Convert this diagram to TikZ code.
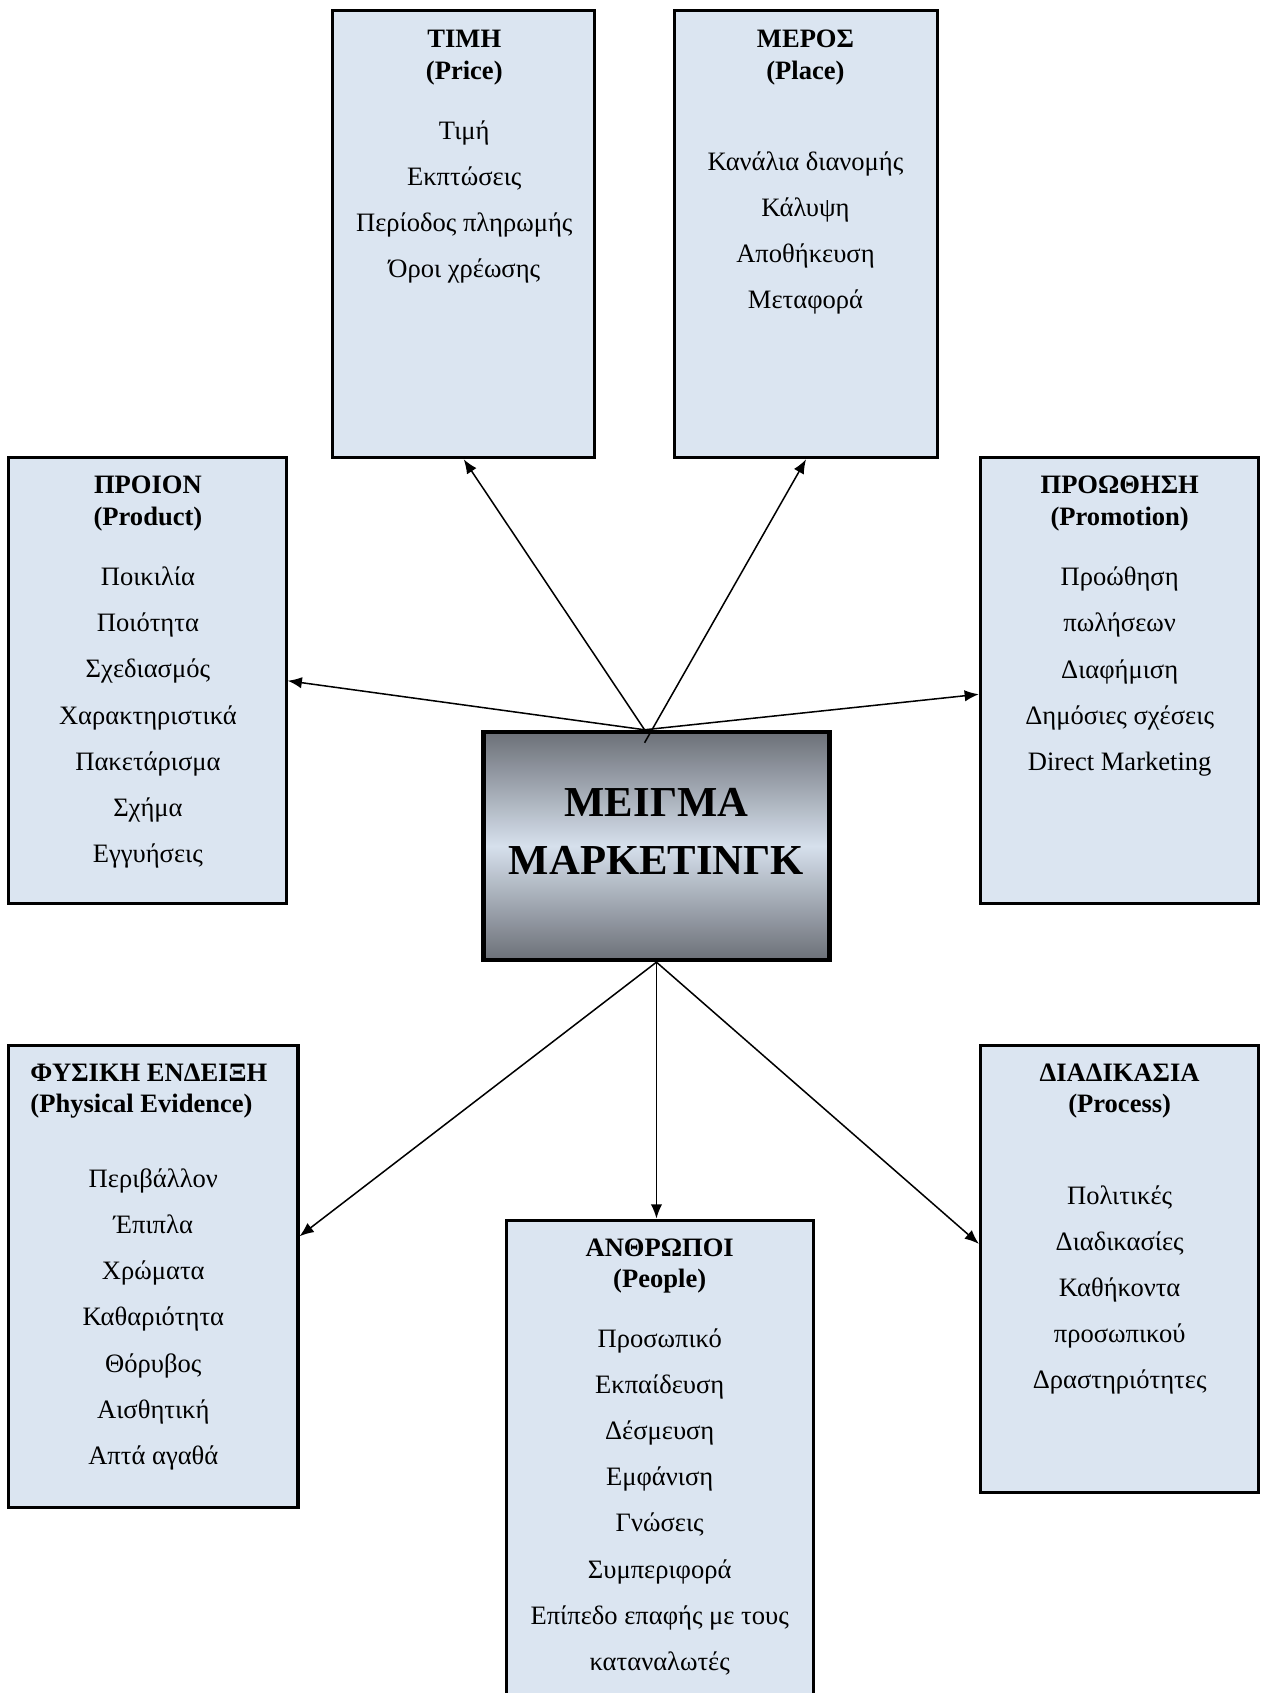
\documentclass[tikz,border=0pt]{standalone}
\usepackage{fontspec}
\setmainfont{Liberation Serif}
\usetikzlibrary{arrows.meta}
\definecolor{boxblue}{RGB}{219,229,241}
\definecolor{mixdark}{RGB}{108,112,120}
\definecolor{mixlight}{RGB}{214,224,236}

\tikzset{
  box/.style={draw, line width=1.6pt, fill=boxblue, inner sep=0pt},
  mixbox/.style={draw, line width=2.4pt, top color=mixdark, bottom color=mixdark, middle color=mixlight, inner sep=0pt},
  head/.style={align=center, font=\fontsize{14}{16.6}\selectfont\bfseries},
  items/.style={align=center, font=\fontsize{14}{24.3}\selectfont},
  link/.style={->, line width=0.8pt}
}

\begin{document}
\begin{tikzpicture}[x=0.2cm, y=-0.2cm, >={Latex[length=7.5pt,width=6pt]}]
  \useasboundingbox (0,0) rectangle (116.8,156.8);

  % boxes
  \node [box, minimum width=4.86cm, minimum height=8.28cm] (price) at (42.95,21.7) {};
  \node [box, minimum width=4.86cm, minimum height=8.28cm] (place) at (74.65,21.7) {};
  \node [box, minimum width=5.14cm, minimum height=8.26cm] (product) at (13.65,63.05) {};
  \node [box, minimum width=5.16cm, minimum height=8.26cm] (promo) at (103.7,63.05) {};
  \node [box, minimum width=5.36cm, minimum height=8.56cm] (phys) at (14.2,118.2) {};
  \node [box, minimum width=5.68cm, minimum height=9.0cm] (people) at (61.1,135.5) {};
  \node [box, minimum width=5.16cm, minimum height=8.28cm] (process) at (103.7,117.5) {};
  \node [mixbox, minimum width=6.4cm, minimum height=4.22cm] (mix) at (60.8,78.35) {};

  % texts
  \node [head] (priceT) at (43.0,5.35) {ΤΙΜΗ\\(Price)};
  \node [items] (priceL) at (43.0,18.7) {Τιμή\\Εκπτώσεις\\Περίοδος πληρωμής\\Όροι χρέωσης};
  \node [head] (placeT) at (74.6,5.35) {ΜΕΡΟΣ\\(Place)};
  \node [items] (placeL) at (74.6,21.6) {Κανάλια διανομής\\Κάλυψη\\Αποθήκευση\\Μεταφορά};
  \node [head] (productT) at (13.7,46.65) {ΠΡΟΙΟΝ\\(Product)};
  \node [items] (productL) at (13.7,66.45) {Ποικιλία\\Ποιότητα\\Σχεδιασμός\\Χαρακτηριστικά\\Πακετάρισμα\\Σχήμα\\Εγγυήσεις};
  \node [head] (promoT) at (103.7,46.65) {ΠΡΟΩΘΗΣΗ\\(Promotion)};
  \node [items] (promoL) at (103.7,62.2) {Προώθηση\\πωλήσεων\\Διαφήμιση\\Δημόσιες σχέσεις\\Direct Marketing};
  \node [head, align=left, anchor=west] (physT) at (2.2,101.05) {ΦΥΣΙΚΗ ΕΝΔΕΙΞΗ\\(Physical Evidence)};
  \node [items] (physL) at (14.2,122.2) {Περιβάλλον\\Έπιπλα\\Χρώματα\\Καθαριότητα\\Θόρυβος\\Αισθητική\\Απτά αγαθά};
  \node [head] (peopleT) at (61.1,117.25) {ΑΝΘΡΩΠΟΙ\\(People)};
  \node [items] (peopleL) at (61.1,139.1) {Προσωπικό\\Εκπαίδευση\\Δέσμευση\\Εμφάνιση\\Γνώσεις\\Συμπεριφορά\\Επίπεδο επαφής με τους\\καταναλωτές};
  \node [head] (processT) at (103.7,101.05) {ΔΙΑΔΙΚΑΣΙΑ\\(Process)};
  \node [items] (processL) at (103.7,119.45) {Πολιτικές\\Διαδικασίες\\Καθήκοντα\\προσωπικού\\Δραστηριότητες};
  \node [align=center, font=\fontsize{22.5}{30.7}\selectfont\bfseries] (mixT) at (60.8,77.0) {ΜΕΙΓΜΑ\\ΜΑΡΚΕΤΙΝΓΚ};

  % arrows
  \coordinate (hub) at ([xshift=-0.22cm]mix.north);
  \draw [link] (hub) -- (price.south);
  \draw [link] ([yshift=-0.24cm]hub) -- (place.south);
  \draw [link] (hub) -- (product.east);
  \draw [link] (hub) -- ([yshift=-0.25cm]promo.west);
  \draw [link] (mix.south) -- ([yshift=0.74cm]phys.east);
  \draw [link] (mix.south) -- (mix.south |- people.north);
  \draw [link] (mix.south) -- ([yshift=0.46cm]process.west);
\end{tikzpicture}
\end{document}
